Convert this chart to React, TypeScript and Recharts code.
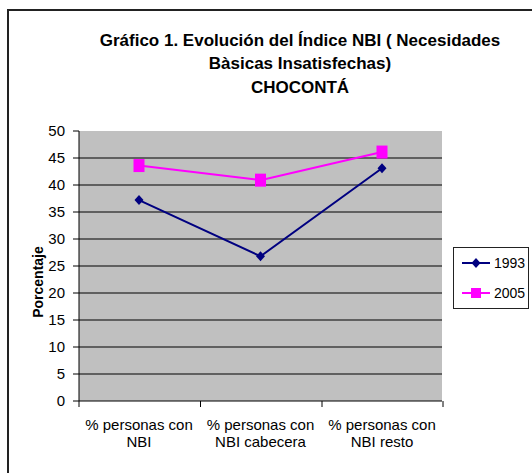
import React from 'react';
import { LineChart, Line, XAxis, YAxis, CartesianGrid, Legend } from 'recharts';

const categories = ['% personas con NBI', '% personas con NBI cabecera', '% personas con NBI resto'];
const serie1993 = [37.2, 26.8, 43.1];
const serie2005 = [43.6, 40.9, 46.1];
const yTicks = [0, 5, 10, 15, 20, 25, 30, 35, 40, 45, 50];
const titleLines = ['Gráfico 1. Evolución del Índice NBI ( Necesidades', 'Bàsicas Insatisfechas)', 'CHOCONTÁ'];

const data = categories.map((name, i) => ({ name, y1993: serie1993[i], y2005: serie2005[i] }));

const FONT = '"Liberation Sans", Arial, sans-serif';
const NAVY = '#000080';
const MAGENTA = '#FF00FF';
const PAD = 60;

function Diamond({ cx, cy }: any) {
  if (cx == null || cy == null) return null;
  return <path d={`M${cx},${cy - 5} L${cx + 4.5},${cy} L${cx},${cy + 5} L${cx - 4.5},${cy} Z`} fill={NAVY} />;
}

function Square({ cx, cy }: any) {
  if (cx == null || cy == null) return null;
  return <rect x={cx - 5.5} y={cy - 6.5} width={11} height={13} fill={MAGENTA} />;
}

function CategoryTick({ x, y, payload, index }: any) {
  const label: string = payload.value;
  const cut = label.indexOf(' con ') + 4;
  const first = label.slice(0, cut);
  const second = label.slice(cut + 1);
  const last = index === categories.length - 1;
  return (
    <g>
      <line x1={x - PAD} y1={y} x2={x - PAD} y2={y + 6} stroke="#000" />
      {last && <line x1={x + PAD + 1} y1={y} x2={x + PAD + 1} y2={y + 6} stroke="#000" />}
      <text x={x} y={y + 29} textAnchor="middle" fontSize={15} fontFamily={FONT} fill="#000">
        {first}
      </text>
      <text x={x} y={y + 46} textAnchor="middle" fontSize={15} fontFamily={FONT} fill="#000">
        {second}
      </text>
    </g>
  );
}

function YTitle({ viewBox }: any) {
  const cx = viewBox.x + 38;
  const cy = viewBox.y + viewBox.height / 2 + 16;
  return (
    <text x={cx} y={cy} transform={`rotate(-90 ${cx} ${cy})`} textAnchor="middle" dominantBaseline="central"
      fontSize={14} fontWeight="bold" fontFamily={FONT} fill="#000">
      Porcentaje
    </text>
  );
}

function LegendBox() {
  const items = [
    { name: '1993', color: NAVY, marker: <path d="M14,0 L18.5,5 L14,10 L9.5,5 Z" fill={NAVY} /> },
    { name: '2005', color: MAGENTA, marker: <rect x={9} y={0} width={10} height={10} fill={MAGENTA} /> },
  ];
  return (
    <div style={{ width: 74, height: 60, border: '1px solid #222', background: '#fff', boxSizing: 'content-box',
      fontFamily: FONT, fontSize: 14 }}>
      {items.map((it) => (
        <div key={it.name} style={{ display: 'flex', alignItems: 'center', height: 30 }}>
          <svg width={29} height={10} style={{ marginLeft: 8, marginRight: 3, flexShrink: 0 }}>
            <line x1={0} y1={5} x2={28} y2={5} stroke={it.color} strokeWidth={2} />
            {it.marker}
          </svg>
          <span style={{ whiteSpace: 'nowrap' }}>{it.name}</span>
        </div>
      ))}
    </div>
  );
}

export default function App() {
  return (
    <div style={{ position: 'absolute', left: 0, top: 0, width: 532, height: 473, overflow: 'hidden', background: '#fff' }}>
      <div style={{ position: 'absolute', left: 7, top: 9, width: 700, height: 700, borderLeft: '2px solid #222', borderTop: '2px solid #222' }} />
      <div style={{ position: 'absolute', left: 80, top: 28.5, width: 440, textAlign: 'center', fontFamily: FONT,
        fontWeight: 'bold', fontSize: 17, lineHeight: '23.5px', color: '#000' }}>
        {titleLines.map((t) => <div key={t}>{t}</div>)}
      </div>
      <div style={{ position: 'absolute', left: 0, top: 0 }}>
        <LineChart width={532} height={473} data={data} margin={{ top: 131, right: 90, bottom: 0, left: 0 }}>
          <CartesianGrid fill="#C0C0C0" stroke="#000" vertical={false} horizontalValues={yTicks.slice(1, -1)} />
          <XAxis dataKey="name" height={72} padding={{ left: PAD, right: PAD }} axisLine={{ stroke: '#000' }}
            tickLine={false} tickSize={0} tickMargin={0} tick={<CategoryTick />} interval={0} />
          <XAxis dataKey="name" xAxisId="top" orientation="top" height={0} tick={false} tickLine={false}
            axisLine={{ stroke: '#808080' }} />
          <YAxis domain={[0, 50]} ticks={yTicks} width={79} tickSize={6} tickMargin={8} interval={0}
            axisLine={{ stroke: '#000' }} tickLine={{ stroke: '#000' }}
            tick={{ fill: '#000', fontSize: 15, fontFamily: FONT }} label={<YTitle />} />
          <YAxis yAxisId="right" orientation="right" width={0} tick={false} tickLine={false} axisLine={{ stroke: '#808080' }} />
          <Legend layout="vertical" align="center" verticalAlign="middle" content={<LegendBox />}
            wrapperStyle={{ left: 453, top: 247, width: 76, height: 62 }} />
          <Line dataKey="y1993" name="1993" stroke={NAVY} strokeWidth={2} dot={<Diamond />} isAnimationActive={false} />
          <Line dataKey="y2005" name="2005" stroke={MAGENTA} strokeWidth={2} dot={<Square />} isAnimationActive={false} />
        </LineChart>
      </div>
    </div>
  );
}
